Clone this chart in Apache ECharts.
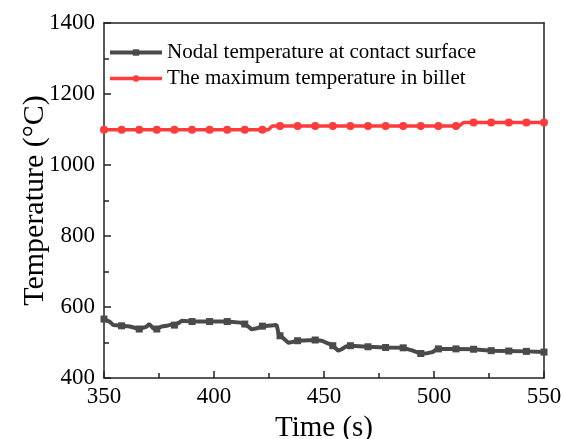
<!DOCTYPE html>
<html>
<head>
<meta charset="utf-8">
<script src="https://cdn.jsdelivr.net/npm/echarts@6/dist/echarts.min.js"></script>
<style>html,body{margin:0;padding:0;background:#fff}#c{width:563px;height:439px}</style>
</head>
<body>
<div id="c"></div>
<script>
const xTicks = [350, 400, 450, 500, 550];
const yTicks = [400, 600, 800, 1000, 1200, 1400];
const seriesNames = ['Nodal temperature at contact surface', 'The maximum temperature in billet'];
const markerTimes = [350,358,366,374,382,390,398,406,414,422,430,438,446,454,462,470,478,486,494,502,510,518,526,534,542,550];

const grayTime = [350,352.7,354.2,358,361.8,366,369.4,370.6,372.4,374,376.2,378.5,380.8,382,384.2,385.3,390,398,406,412,414,415.6,417.1,419.4,422,426,428.5,429.5,430,431.5,433.8,438,446,449,452,454,456.5,458,460,462,470,478,486,490,494,497,499.5,501,502,510,518,526,534,542,550];
const grayTemp = [566,558,549,547,545,538,545,552,540,538,545,547,551,549,556,561,559,559,559,556,552,545,537,540,546,548,549,521,519,512,499,505,507,505,497,491,477,481,489,491,488,486,485,478,469,470,473,481,482,482,481,477,476,475,473];

const redTime = [350,358,366,374,382,390,398,406,414,422,424.7,426.5,430,438,446,454,462,470,478,486,494,502,510,511.5,513.5,518,526,534,542,550];
const redTemp = [1099,1099,1099,1099,1099,1099,1099,1099,1099,1099,1099,1110,1110,1110,1110,1110,1110,1110,1110,1110,1110,1110,1110,1110,1120,1120,1120,1120,1120,1120];

const font = "'Liberation Serif','Times New Roman',serif";
const pair = (t, v) => t.map((x, i) => [x, v[i]]);
const markSize = s => (v => markerTimes.includes(v[0]) ? s : 0);

const chart = echarts.init(document.getElementById('c'), null, {renderer: 'canvas'});
chart.setOption({
  animation: false,
  backgroundColor: '#fff',
  grid: {left: 104, right: 19, top: 23, bottom: 61, outerBoundsMode: 'none', containLabel: false},
  legend: {
    left: 108, top: 42, padding: 0, orient: 'vertical', itemGap: 5, itemWidth: 52, itemHeight: 8,
    textStyle: {fontFamily: font, fontSize: 21, color: '#000'},
    data: [
      {name: seriesNames[0], lineStyle: {width: 4}},
      {name: seriesNames[1], lineStyle: {width: 3.5}}
    ]
  },
  xAxis: [{
    type: 'value', min: 350, max: 550, interval: 50,
    name: 'Time (s)', nameLocation: 'middle', nameGap: 36, nameMoveOverlap: false,
    nameTextStyle: {fontFamily: font, fontSize: 29, color: '#000'},
    axisLine: {lineStyle: {color: '#222', width: 1.5}},
    axisTick: {inside: true, length: 7, lineStyle: {color: '#222', width: 1.5}},
    minorTick: {show: true, splitNumber: 2, length: 5, lineStyle: {color: '#222', width: 1.5}},
    axisLabel: {fontFamily: font, fontSize: 23, color: '#000', margin: 7, formatter: v => xTicks.includes(v) ? String(v) : ''},
    splitLine: {show: false}
  }, {
    type: 'value', position: 'top', min: 350, max: 550,
    axisLine: {show: true, lineStyle: {color: '#222', width: 1.5}},
    axisTick: {show: false}, axisLabel: {show: false}, splitLine: {show: false}
  }],
  yAxis: [{
    type: 'value', min: 400, max: 1400, interval: 200,
    name: 'Temperature (°C)', nameLocation: 'middle', nameGap: 54, nameMoveOverlap: false,
    nameTextStyle: {fontFamily: font, fontSize: 30, color: '#000'},
    axisLine: {show: true, lineStyle: {color: '#222', width: 1.5}},
    axisTick: {inside: true, length: 7, lineStyle: {color: '#222', width: 1.5}},
    minorTick: {show: true, splitNumber: 2, length: 5, lineStyle: {color: '#222', width: 1.5}},
    axisLabel: {fontFamily: font, fontSize: 23, color: '#000', margin: 9, formatter: v => yTicks.includes(v) ? String(v) : ''},
    splitLine: {show: false}
  }, {
    type: 'value', position: 'right', min: 400, max: 1400,
    axisLine: {show: true, lineStyle: {color: '#222', width: 1.5}},
    axisTick: {show: false}, axisLabel: {show: false}, splitLine: {show: false}
  }],
  series: [{
    name: seriesNames[0], type: 'line', data: pair(grayTime, grayTemp),
    symbol: 'rect', symbolSize: markSize(7), showAllSymbol: true,
    color: '#4a4a4a', lineStyle: {width: 4, color: '#4a4a4a'}, itemStyle: {color: '#4a4a4a'}
  }, {
    name: seriesNames[1], type: 'line', data: pair(redTime, redTemp),
    symbol: 'circle', symbolSize: markSize(8), showAllSymbol: true,
    color: '#ff3b3b', lineStyle: {width: 3.5, color: '#ff3b3b'}, itemStyle: {color: '#ff3b3b'}
  }]
});
</script>
</body>
</html>
